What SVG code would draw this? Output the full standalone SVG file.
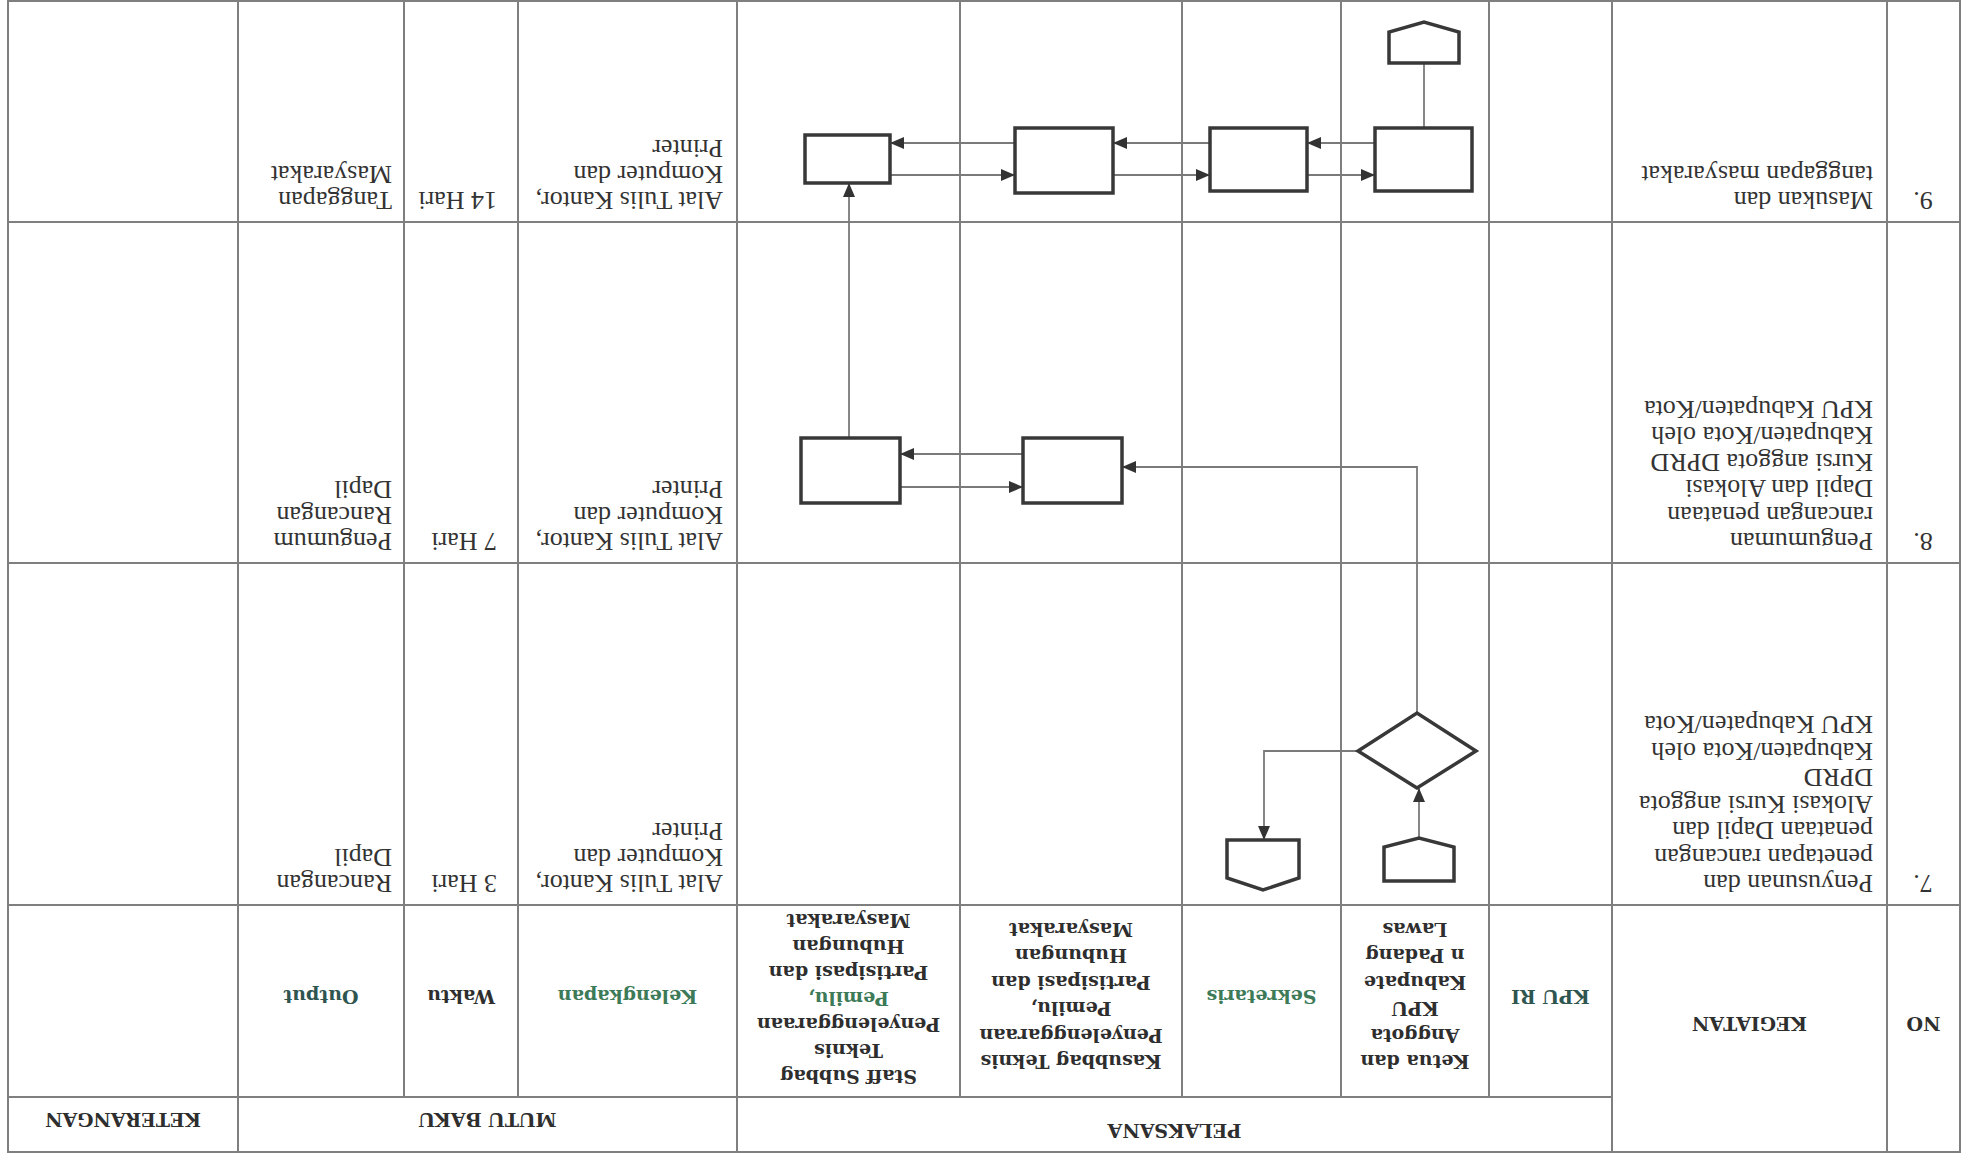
<svg xmlns="http://www.w3.org/2000/svg" width="1962" height="1161" viewBox="0 0 1962 1161">
<style>
.grid{stroke:#7f7f7f;stroke-width:2;fill:none}
.box{fill:#fff;stroke:#383838;stroke-width:3.5}
.conn{stroke:#7a7a7a;stroke-width:1.8;fill:none}
.h{font-family:"DejaVu Serif",serif;font-weight:bold;font-size:19px;fill:#2e2e2e}
.hc{text-anchor:middle}
.g{fill:#3c7a58}
.t{fill:#2f5550}
.b{font-family:"Liberation Serif",serif;font-size:26px;fill:#333}
</style>
<defs>
<marker id="ah" viewBox="0 0 14 12" refX="14" refY="6" markerWidth="14" markerHeight="12" markerUnits="userSpaceOnUse" orient="auto">
<path d="M0,0 L14,6 L0,12 z" fill="#333"/>
</marker>
</defs>
<rect width="1962" height="1161" fill="#fff"/>
<g transform="rotate(180 981 580.5)">
<g id="table">
<rect class="grid" x="2" y="9" width="1952" height="1151"/>
<path class="grid" d="M350,64 H1954 M2,256 H1954 M2,598 H1954 M2,939 H1954 M75,9 V1160 M350,9 V1160 M473,64 V1160 M621,64 V1160 M780,64 V1160 M1002,64 V1160 M1225,9 V1160 M1444,64 V1160 M1558,64 V1160 M1724,9 V1160"/>
</g>
<g id="header">
<text class="h hc" x="38.5" y="144">NO</text>
<text class="h hc" x="212.5" y="144">KEGIATAN</text>
<text class="h hc" x="787.5" y="37">PELAKSANA</text>
<text class="h hc" x="1474.5" y="48">MUTU BAKU</text>
<text class="h hc" x="1839" y="48">KETERANGAN</text>
<text class="h hc t" x="411.5" y="171">KPU RI</text>
<text class="h hc" x="547"><tspan x="547" y="106">Ketua dan</tspan><tspan x="547" y="132.4">Anggota</tspan><tspan x="547" y="158.8">KPU</tspan><tspan x="547" y="185.2">Kabupate</tspan><tspan x="547" y="211.6">n Padang</tspan><tspan x="547" y="238">Lawas</tspan></text>
<text class="h hc g" x="700.5" y="171">Sekretaris</text>
<text class="h hc" x="891"><tspan x="891" y="106">Kasubbag Teknis</tspan><tspan x="891" y="132.4">Penyelenggaraan</tspan><tspan x="891" y="158.8">Pemilu,</tspan><tspan x="891" y="185.2">Partisipasi dan</tspan><tspan x="891" y="211.6">Hubungan</tspan><tspan x="891" y="238">Masyarakat</tspan></text>
<text class="h hc" x="1113.5"><tspan x="1113.5" y="91">Staff Subbag</tspan><tspan x="1113.5" y="117">Teknis</tspan><tspan x="1113.5" y="143">Penyelenggaraan</tspan><tspan x="1113.5" y="169" class="g">Pemilu,</tspan><tspan x="1113.5" y="195">Partisipasi dan</tspan><tspan x="1113.5" y="221">Hubungan</tspan><tspan x="1113.5" y="247">Masyarakat</tspan></text>
<text class="h hc g" x="1334.5" y="171">Kelengkapan</text>
<text class="h hc" x="1501" y="171">Waktu</text>
<text class="h hc t" x="1641" y="171">Output</text>
</g>
<g id="row7-text" class="b">
<text x="39" y="286" text-anchor="middle">7.</text>
<text x="89"><tspan x="89" y="286">Penyusunan dan</tspan><tspan x="89" y="312.5">penetapan rancangan</tspan><tspan x="89" y="339">penataan Dapil dan</tspan><tspan x="89" y="365.5">Alokasi Kursi anggota</tspan><tspan x="89" y="392">DPRD</tspan><tspan x="89" y="418.5">Kabupaten/Kota oleh</tspan><tspan x="89" y="445">KPU Kabupaten/Kota</tspan></text>
<text x="1239"><tspan x="1239" y="286">Alat Tulis Kantor,</tspan><tspan x="1239" y="312">Komputer dan</tspan><tspan x="1239" y="338">Printer</tspan></text>
<text x="1465" y="286">3 Hari</text>
<text x="1570"><tspan x="1570" y="286">Rancangan</tspan><tspan x="1570" y="312">Dapil</tspan></text>
</g>
<g id="row8-text" class="b">
<text x="39" y="628" text-anchor="middle">8.</text>
<text x="89"><tspan x="89" y="628">Pengumuman</tspan><tspan x="89" y="654.5">rancangan penataan</tspan><tspan x="89" y="681">Dapil dan Alokasi</tspan><tspan x="89" y="707.5">Kursi anggota DPRD</tspan><tspan x="89" y="734">Kabupaten/Kota oleh</tspan><tspan x="89" y="760.5">KPU Kabupaten/Kota</tspan></text>
<text x="1239"><tspan x="1239" y="628">Alat Tulis Kantor,</tspan><tspan x="1239" y="654">Komputer dan</tspan><tspan x="1239" y="680">Printer</tspan></text>
<text x="1465" y="628">7 Hari</text>
<text x="1570"><tspan x="1570" y="628">Pengumum</tspan><tspan x="1570" y="654">Rancangan</tspan><tspan x="1570" y="680">Dapil</tspan></text>
</g>
<g id="row9-text" class="b">
<text x="39" y="969" text-anchor="middle">9.</text>
<text x="89"><tspan x="89" y="969">Masukan dan</tspan><tspan x="89" y="995.5">tanggapan masyarakat</tspan></text>
<text x="1239"><tspan x="1239" y="969">Alat Tulis Kantor,</tspan><tspan x="1239" y="995">Komputer dan</tspan><tspan x="1239" y="1021">Printer</tspan></text>
<text x="1465" y="969">14 Hari</text>
<text x="1570"><tspan x="1570" y="969">Tanggapan</tspan><tspan x="1570" y="995">Masyarakat</tspan></text>
</g>
<g id="connectors">
<path class="conn" d="M543,323 V373" marker-end="url(#ah)"/>
<path class="conn" d="M604,410 H698 V321" marker-end="url(#ah)"/>
<path class="conn" d="M545,448 V694 H840" marker-end="url(#ah)"/>
<path class="conn" d="M939,707 H1062" marker-end="url(#ah)"/>
<path class="conn" d="M1062,674 H939" marker-end="url(#ah)"/>
<path class="conn" d="M1113,723 V978" marker-end="url(#ah)"/>
<path class="conn" d="M587,1018 H655" marker-end="url(#ah)"/>
<path class="conn" d="M752,1018 H849" marker-end="url(#ah)"/>
<path class="conn" d="M947,1018 H1072" marker-end="url(#ah)"/>
<path class="conn" d="M1072,986 H947" marker-end="url(#ah)"/>
<path class="conn" d="M849,986 H752" marker-end="url(#ah)"/>
<path class="conn" d="M655,986 H587" marker-end="url(#ah)"/>
<path class="conn" d="M538,1033 V1098"/>
</g>
<g id="n7-start"><polygon class="box" points="508,280 578,280 578,314 543,323 508,314"/></g>
<g id="n7-decision"><polygon class="box" points="545,373 604,410 545,448 486,410"/></g>
<g id="n7-end"><polygon class="box" points="663,321 735,321 735,283 699,271 663,283"/></g>
<g id="n8-kasubbag"><rect class="box" x="840" y="658" width="99" height="65"/></g>
<g id="n8-staff"><rect class="box" x="1062" y="658" width="99" height="65"/></g>
<g id="n9-ketua"><rect class="box" x="490" y="970" width="97" height="63"/></g>
<g id="n9-sekretaris"><rect class="box" x="655" y="970" width="97" height="63"/></g>
<g id="n9-kasubbag"><rect class="box" x="849" y="968" width="98" height="65"/></g>
<g id="n9-staff"><rect class="box" x="1072" y="978" width="85" height="48"/></g>
<g id="n9-offpage"><polygon class="box" points="503,1098 573,1098 573,1129 538,1139 503,1129"/></g>
</g>
</svg>
